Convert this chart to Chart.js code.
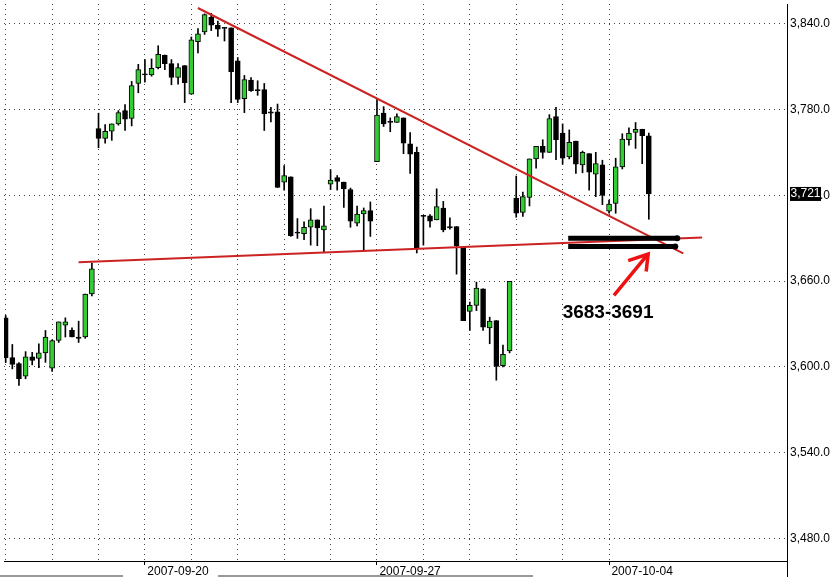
<!DOCTYPE html>
<html>
<head>
<meta charset="utf-8">
<script src="https://cdn.jsdelivr.net/npm/chart.js@4.4.1/dist/chart.umd.min.js"></script>
<style>
html,body{margin:0;padding:0;background:#fff;}
#wrap{width:840px;height:577px;position:relative;}
</style>
</head>
<body>
<div id="wrap"><canvas id="c"></canvas></div>
<script>
// hourly candles, 7 a day, 2007-09-17 .. 2007-10-04
var opens=[3634.3,3606.5,3602.3,3593.5,3607,3606,3609.8,
  3599.1,3618.5,3629.2,3625.5,3620.9,3620.9,3651,
  3766.8,3759.9,3764.9,3770,3779.3,3773.8,3798.3,
  3805,3804.3,3809.4,3818.2,3812.2,3802.5,3810.8,
  3790.9,3827.5,3834.4,3844.7,3839.1,3837.6,3837.2,
  3814.1,3787.7,3800.6,3794.1,3794.1,3778.4,3778.4,
  3729.3,3733,3694.4,3693.2,3697.7,3702.9,3695.9,
  3727.9,3732.5,3729.3,3724.1,3700.5,3707,3709.3,
  3743.6,3777.5,3771.8,3771,3774.2,3756.1,3750.1,
  3706.1,3705.7,3702.9,3711.2,3698.1,3698.2,3683.8,
  3638.9,3643.1,3654.7,3627.3,3632.4,3600.9,3611.1,
  3718.2,3708,3718.6,3745.5,3754.3,3750.1,3775.2,
  3763.6,3746.9,3758,3741.3,3749.2,3734.9,3741.3,
  3708.9,3714.4,3739.9,3758.9,3764,3766.3,3761.7];
var highs=[3636,3615.7,3603,3610.7,3610.2,3616.2,3625.5,
  3619,3631.5,3634.3,3627.3,3632,3651,3672.7,
  3777.5,3769.6,3770,3779.3,3783.5,3799.7,3811.7,
  3815,3815.5,3824.7,3818.2,3815,3812.2,3810.8,
  3830.8,3836.7,3847,3847.4,3841.9,3837.6,3837.2,
  3816.4,3803.9,3802.5,3800.2,3798.3,3781.6,3783.9,
  3740.8,3733,3703.8,3701.5,3710.7,3702.9,3712.6,
  3738,3733.9,3729.3,3725.1,3712.6,3711.2,3715.4,
  3786.7,3782.1,3774.2,3777,3774.2,3764,3753.8,
  3706.1,3706.6,3724.6,3715.8,3704.3,3698.2,3683.8,
  3645.4,3659.3,3654.7,3634.8,3632.4,3615.3,3659.8,
  3733.5,3722.3,3745.5,3754.3,3758.9,3776.5,3781.6,
  3770,3765.8,3758,3751,3749.2,3750.1,3744.6,
  3716.8,3746,3763.1,3767.2,3771,3766.3,3763.6];
var lows=[3603,3598.6,3587,3591.7,3601.4,3599.5,3603.2,
  3596.8,3617.1,3620.9,3620.9,3617.1,3620,3649.6,
  3753.3,3756.6,3758.5,3769.1,3765.4,3768.6,3791.8,
  3799.2,3803.4,3808.5,3808,3797.4,3797.8,3784.9,
  3790.9,3819.6,3832.6,3835.3,3831.2,3828,3784.9,
  3784.9,3777.9,3792.7,3790,3765.4,3771.4,3725.5,
  3723.7,3691.3,3689.9,3689,3685.2,3684.8,3680.6,
  3724.1,3723.7,3711.6,3697.7,3698.7,3681,3691.3,
  3743.6,3768.2,3764.5,3771,3749.2,3735.3,3679.7,
  3685.2,3697.7,3702.9,3694.5,3696.4,3664.9,3632.4,
  3625.5,3639.4,3625.5,3616.2,3590.7,3600,3609.8,
  3704.7,3705.2,3712.6,3739,3746,3750.1,3745,
  3741.8,3745.5,3735.3,3735.8,3723.7,3719.1,3713.5,
  3707.5,3707.5,3738.5,3755.2,3752.9,3742.2,3703.3];
var closes=[3606.5,3601.8,3591.7,3607,3604.6,3609.8,3620.9,
  3618.5,3631.5,3631.5,3620.9,3620,3651,3668.6,
  3759.9,3764.9,3770,3777.9,3773.3,3796.9,3808,
  3804.3,3808.9,3818.7,3812.2,3802.5,3809.4,3798.8,
  3828.9,3833,3846.5,3839.1,3836.3,3836.8,3806.6,
  3787.2,3801.1,3793.2,3793.3,3777,3777.6,3725.5,
  3733.9,3691.8,3693.6,3697.7,3702.9,3697.3,3698.7,
  3730.7,3729.7,3724.6,3701.9,3707,3709.3,3701.9,
  3776.1,3770,3771,3775.2,3756.6,3748.8,3682.9,
  3705.3,3701.9,3712.1,3695.9,3697.3,3684.8,3632.4,
  3643.1,3655.1,3627.8,3632,3600.4,3608.8,3659.8,
  3707.5,3719.1,3745.5,3754.3,3750.1,3773.8,3758.9,
  3746,3757.1,3741.8,3750.1,3736.2,3742.2,3720,
  3714,3739.9,3759.4,3763.6,3766.3,3761.7,3721];

var dayTicks=[0,7,14,21,28,35,42,49,56,63,70,77,84,91];
var tickIndex=[21,56,91];
var tickLabels=["2007-09-20","2007-09-27","2007-10-04"];
var yTicks=[3480,3540,3600,3660,3720,3780,3840];
var lastPrice=3721;

// drawn lines, in candle index / price
var trendX=[28.99,102.19], trendY=[3851.1,3679.5];
var supportX=[10.99,105.04], supportY=[3673.2,3690.6];
var zoneTopX=[84.84,101.29], zoneTop=3690.0;
var zoneLowX=[84.84,100.99], zoneLow=3684.2;
var arrowX=[91.74,96.90], arrowY=[3650.1,3679.0];
var headX=[93.89,96.90,96.60], headY=[3674.4,3679.0,3666.7];
var noteText="3683-3691", noteX=84.0, noteY=3637.8;

var bodies=[], wicks=[], bodyColors=[];
for(var i=0;i<opens.length;i++){
  bodies.push({x:i,y:[opens[i],closes[i]]});
  wicks.push({x:i,y:[lows[i],highs[i]]});
  bodyColors.push(closes[i]>opens[i]?"#33cc33":"#000000");
}
function pts(xs,ys){
  var out=[];
  for(var k=0;k<xs.length;k++){out.push({x:xs[k],y:Array.isArray(ys)?ys[k]:ys});}
  return out;
}
function fmt(v){
  return String(v).replace(/\B(?=(\d{3})+(?!\d))/g,",")+".0";
}
function noPad(s){s.paddingTop=0;s.paddingBottom=0;s.paddingLeft=0;s.paddingRight=0;}

var extras={
  id:"extras",
  afterDraw:function(chart){
    var ctx=chart.ctx, xs=chart.scales.x, ys=chart.scales.y, a=chart.chartArea;
    ctx.save();
    // price box on the axis
    var py=ys.getPixelForValue(lastPrice);
    ctx.font="12px 'Liberation Sans', Arial, sans-serif";
    var t="3,721", w=ctx.measureText(t).width;
    ctx.fillStyle="#000";
    ctx.fillRect(a.right+3,py-7,w+1,14);
    ctx.fillStyle="#fff";
    ctx.textBaseline="middle";
    ctx.textAlign="left";
    ctx.fillText(t,a.right+3.5,py);
    // note
    ctx.fillStyle="#000";
    ctx.font="bold 19px 'Liberation Sans', Arial, sans-serif";
    ctx.fillText(noteText,xs.getPixelForValue(noteX),ys.getPixelForValue(noteY));
    // axis line down to the bottom, scroll bar
    ctx.strokeStyle="#000";
    ctx.lineWidth=1;
    ctx.beginPath();
    ctx.moveTo(Math.round(a.right)+0.5,a.bottom);
    ctx.lineTo(Math.round(a.right)+0.5,chart.height);
    ctx.stroke();
    ctx.strokeStyle="#999";
    ctx.lineWidth=2;
    ctx.beginPath();
    ctx.moveTo(0,576);ctx.lineTo(123,576);
    ctx.moveTo(218,576);ctx.lineTo(533,576);
    ctx.stroke();
    ctx.restore();
  }
};

var lineBase={type:"line",pointRadius:0,fill:false,tension:0,borderCapStyle:"butt"};
function lineSet(data,color,width,order,extra){
  var d=Object.assign({},lineBase,{data:data,borderColor:color,borderWidth:width,order:order});
  return Object.assign(d,extra||{});
}

Chart.defaults.font.family="'Liberation Sans', Arial, sans-serif";
Chart.defaults.font.size=12;
Chart.defaults.color="#000";

var myChart=new Chart(document.getElementById("c"),{
  type:"bar",
  data:{
    datasets:[
      lineSet(pts(zoneTopX,zoneTop),"#000",5,-1,{pointRadius:[0,3],pointBackgroundColor:"#000",pointBorderWidth:0}),
      lineSet(pts(zoneLowX,zoneLow),"#000",5,-1,{pointRadius:[0,3],pointBackgroundColor:"#000",pointBorderWidth:0}),
      lineSet(pts(trendX,trendY),"#cc2222",2,0),
      lineSet(pts(supportX,supportY),"#cc2222",2,0),
      lineSet(pts(arrowX,arrowY),"#ee1111",3.5,-2),
      lineSet(pts(headX,headY),"#ee1111",3.5,-2,{borderJoinStyle:"miter"}),
      {data:bodies,backgroundColor:bodyColors,borderColor:"#000",borderWidth:1,
        borderSkipped:false,barThickness:5,grouped:false,order:1},
      {data:wicks,backgroundColor:"#000",borderWidth:0,barThickness:1,grouped:false,order:2}
    ]
  },
  options:{
    responsive:true,
    maintainAspectRatio:false,
    animation:false,
    layout:{padding:0},
    plugins:{legend:{display:false},tooltip:{enabled:false}},
    scales:{
      x:{
        type:"linear",
        offset:false,
        min:-0.255,
        max:117.84,
        afterBuildTicks:function(s){s.ticks=dayTicks.map(function(v){return {value:v};});},
        afterFit:function(s){s.height=16;noPad(s);},
        ticks:{
          autoSkip:false,maxRotation:0,align:"start",padding:-1,
          font:{size:12},
          callback:function(v){var k=tickIndex.indexOf(v);return k<0?"":"\u2009"+tickLabels[k];}
        },
        grid:{
          offset:false,
          color:"#444",
          tickLength:4,
          tickColor:function(c){return c.tick&&tickIndex.indexOf(c.tick.value)>=0?"#000":"rgba(0,0,0,0)";},
          tickBorderDash:[10,0]
        },
        border:{display:true,color:"#000",width:1,dash:[1,4]}
      },
      y:{
        type:"linear",
        position:"right",
        min:3464.2,
        max:3853.9,
        afterBuildTicks:function(s){s.ticks=yTicks.map(function(v){return {value:v};});},
        afterFit:function(s){s.width=53;noPad(s);},
        ticks:{padding:3,font:{size:12},callback:function(v){return fmt(v);}},
        grid:{color:"#444",drawTicks:false},
        border:{display:true,color:"#000",width:1,dash:[1,4]}
      }
    }
  },
  plugins:[extras]
});
</script>
</body>
</html>
